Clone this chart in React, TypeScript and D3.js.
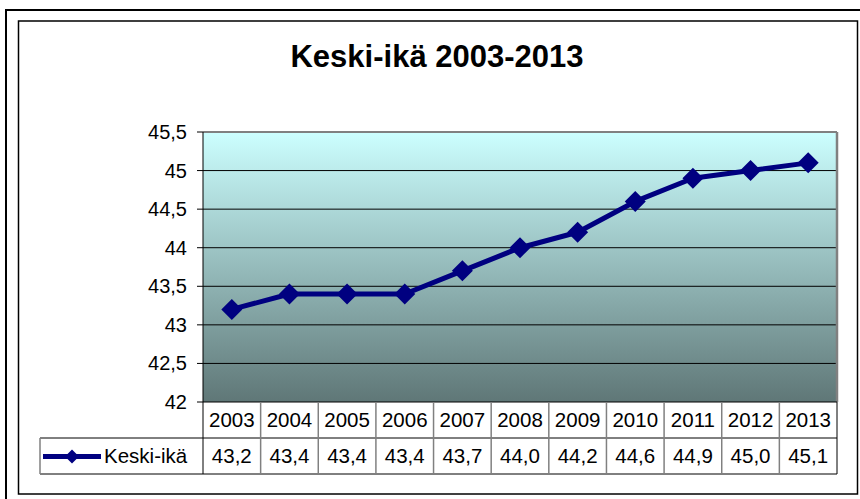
import React from "react";
import * as d3 from "d3";

const years = ["2003", "2004", "2005", "2006", "2007", "2008", "2009", "2010", "2011", "2012", "2013"];
const values = [43.2, 43.4, 43.4, 43.4, 43.7, 44.0, 44.2, 44.6, 44.9, 45.0, 45.1];
const yTicks = [42, 42.5, 43, 43.5, 44, 44.5, 45, 45.5];
const seriesName = "Keski-ikä";
const title = "Keski-ikä 2003-2013";

const W = 860;
const H = 499;
const FONT = "'Liberation Sans', Arial, sans-serif";

export default function App() {
  const left = 203, right = 837, top = 132, bottom = 402;
  const row1 = 438, row2 = 474;
  const legendLeft = 40;

  const x = d3.scaleBand<string>().domain(years).range([left, right]).padding(0);
  const y = d3.scaleLinear().domain([42, 45.5]).range([bottom, top]);
  const fmt = (v: number) => v.toFixed(1).replace(".", ",");
  const tickFmt = (v: number) => String(v).replace(".", ",");

  const line = d3
    .line<number>()
    .x((_, i) => (x(years[i]) as number) + x.bandwidth() / 2)
    .y((d) => y(d));

  const diamond = (cx: number, cy: number, r: number) =>
    `M${cx},${cy - r}L${cx + r},${cy}L${cx},${cy + r}L${cx - r},${cy}Z`;

  return (
    <svg
      width={W}
      height={H}
      style={{ position: "absolute", left: 0, top: 0, background: "#fff" }}
      fontFamily={FONT}
    >
      <defs>
        <linearGradient id="bg" x1="0" y1="0" x2="0" y2="1">
          <stop offset="0%" stopColor="#CCFFFF" />
          <stop offset="100%" stopColor="#5F7777" />
        </linearGradient>
      </defs>
      {/* outer frames */}
      <rect x={6} y={10} width={870} height={500} fill="none" stroke="#000" strokeWidth={2} />
      <rect x={18.5} y={21} width={839} height={473} fill="none" stroke="#000" strokeWidth={1.5} />

      {/* title */}
      <text x={437} y={67} textAnchor="middle" fontSize={31} fontWeight="bold" fill="#000">
        {title}
      </text>

      {/* plot area */}
      <rect x={left} y={top} width={right - left} height={bottom - top} fill="url(#bg)" />
      {yTicks.map((t) =>
        t > 42 && t < 45.5 ? (
          <line key={"g" + t} x1={left} x2={right} y1={y(t)} y2={y(t)} stroke="#000" strokeWidth={1} />
        ) : null
      )}
      <line x1={left} x2={right} y1={top} y2={top} stroke="#808080" strokeWidth={2} />
      <line x1={right} x2={right} y1={top} y2={bottom} stroke="#808080" strokeWidth={2.5} />

      {/* y axis */}
      <line x1={left} x2={left} y1={top} y2={row2} stroke="#000" strokeWidth={1} />
      {yTicks.map((t) => (
        <g key={"t" + t}>
          <line x1={left - 6} x2={left} y1={y(t)} y2={y(t)} stroke="#000" />
          <text x={187} y={y(t) + 7} textAnchor="end" fontSize={20} fill="#000">
            {tickFmt(t)}
          </text>
        </g>
      ))}

      {/* line + markers */}
      <path d={line(values) || ""} fill="none" stroke="#000080" strokeWidth={5} strokeLinejoin="round" />
      {values.map((v, i) => (
        <path
          key={"m" + i}
          d={diamond((x(years[i]) as number) + x.bandwidth() / 2, y(v), 10.5)}
          fill="#000080"
        />
      ))}

      {/* data table */}
      <line x1={left} x2={right} y1={bottom} y2={bottom} stroke="#000" strokeWidth={1} />
      <line x1={legendLeft} x2={right} y1={row1} y2={row1} stroke="#000" strokeWidth={1} />
      <line x1={legendLeft} x2={right} y1={row2} y2={row2} stroke="#000" strokeWidth={1} />
      <line x1={legendLeft} x2={legendLeft} y1={row1} y2={row2} stroke="#808080" strokeWidth={1.5} />
      {years.map((yr, i) => {
        const x0 = x(yr) as number;
        return (
          <g key={"c" + yr}>
            {i > 0 && <line x1={x0} x2={x0} y1={bottom} y2={row2} stroke="#808080" strokeWidth={1.5} />}
            <text x={x0 + x.bandwidth() / 2} y={427} textAnchor="middle" fontSize={20.5} fill="#000">
              {yr}
            </text>
            <text x={x0 + x.bandwidth() / 2} y={463} textAnchor="middle" fontSize={20.5} fill="#000">
              {fmt(values[i])}
            </text>
          </g>
        );
      })}
      <line x1={right} x2={right} y1={bottom} y2={row2} stroke="#000" strokeWidth={1} />

      {/* legend */}
      <line x1={43} x2={101} y1={456.5} y2={456.5} stroke="#000080" strokeWidth={5} />
      <path d={diamond(72, 456.5, 7)} fill="#000080" />
      <text x={104} y={463} fontSize={20.5} fill="#000">
        {seriesName}
      </text>
    </svg>
  );
}
